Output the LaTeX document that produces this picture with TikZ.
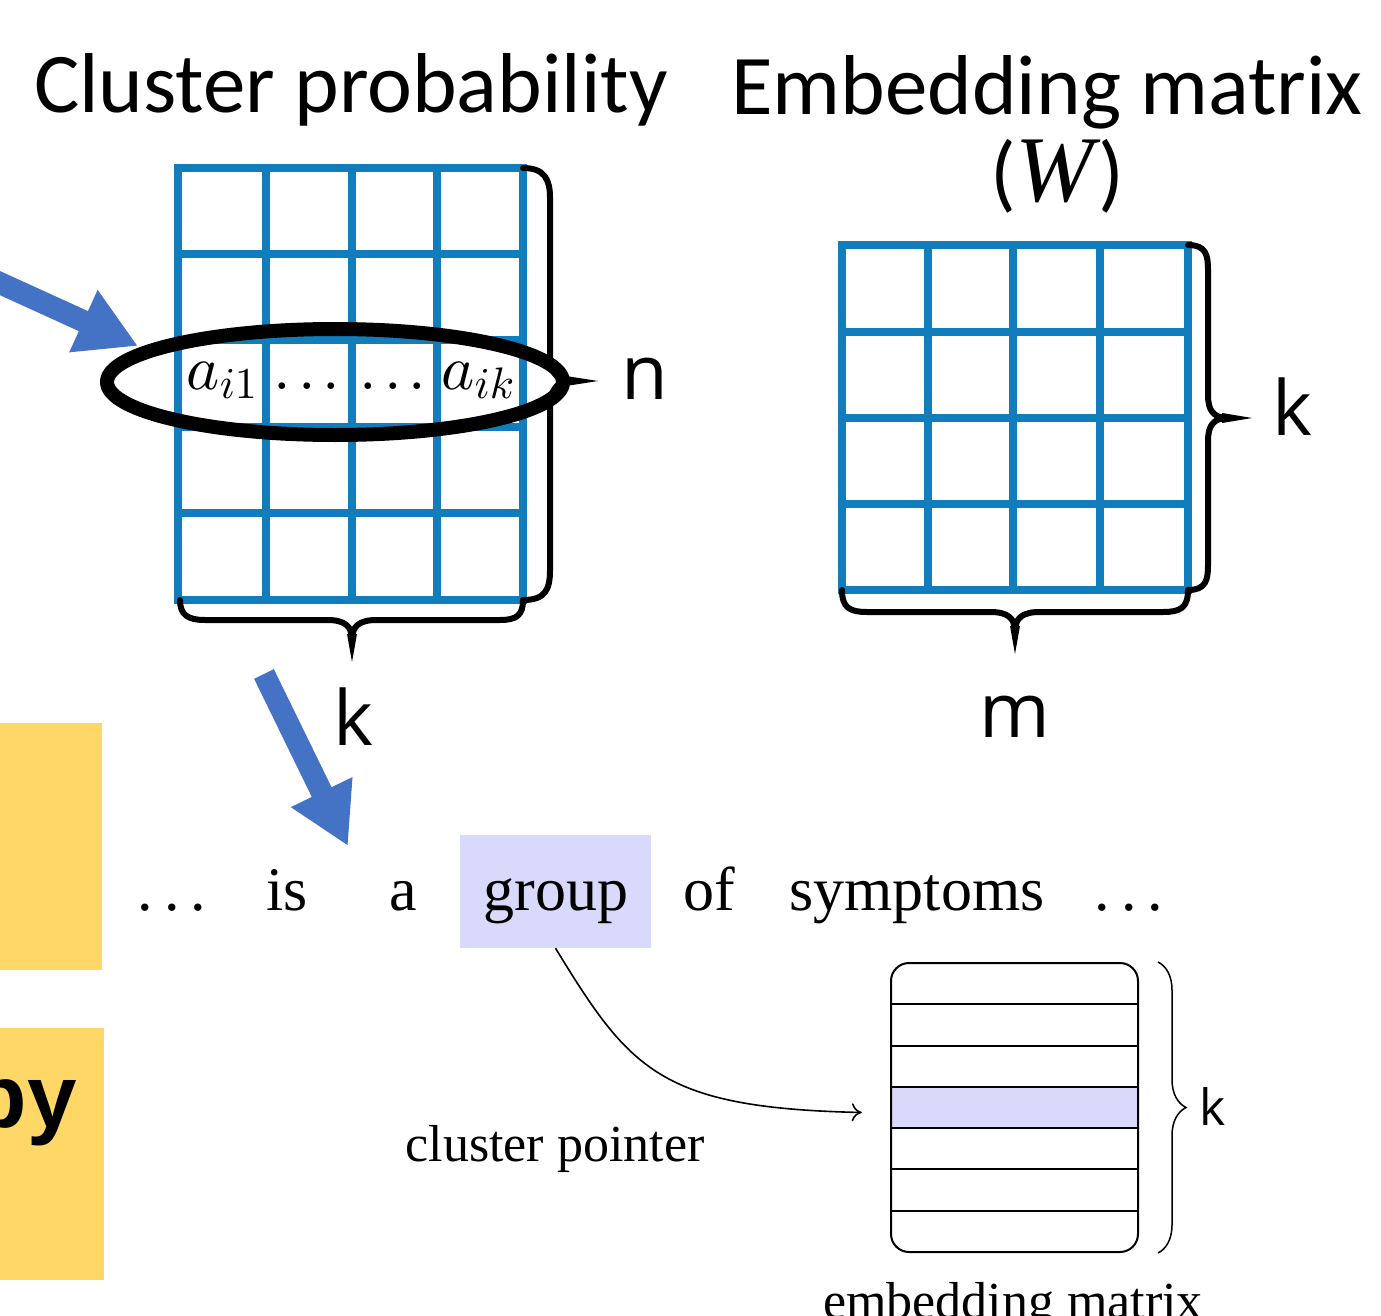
\documentclass[tikz,border=0pt]{standalone}
\DeclareFontShape{OML}{cmm}{m}{it}{<->cmmi10}{}
\DeclareFontShape{OT1}{cmr}{m}{n}{<->cmr10}{}
\DeclareFontShape{OMS}{cmsy}{m}{n}{<->cmsy10}{}
\DeclareFontShape{OMX}{cmex}{m}{n}{<->cmex10}{}
\usepackage{fontspec}
\setmainfont{Liberation Serif}
\newfontfamily\titlefont{Carlito}
\newfontfamily\labfont{Open Sans}
\newfontfamily\bsans{Liberation Sans}
\usetikzlibrary{arrows.meta,decorations.pathreplacing,calc}
\definecolor{gridblue}{RGB}{17,125,189}
\definecolor{arrowblue}{RGB}{68,114,196}
\definecolor{yel}{RGB}{254,215,102}
\definecolor{lav}{RGB}{217,217,251}
\newcommand{\wdots}{.\kern11pt.\kern11pt.}
\newcommand{\mdots}{$\mathord{.}\kern7pt\mathord{.}\kern7pt\mathord{.}$}
\begin{document}
\begin{tikzpicture}[x=1pt,y=-1pt,
  gridline/.style={gridblue, line width=7.5pt, line cap=rect},
  bracepath/.style={black, line width=6pt, line cap=round, line join=round},
  spike/.style={black, fill=black},
  barrow/.style={arrowblue, line width=22pt, -{Triangle[length=60pt,width=64pt]}},
  title/.style={inner sep=0pt, font=\titlefont\fontsize{85}{100}\selectfont},
  lab/.style={inner sep=0pt, anchor=base, font=\labfont\fontsize{76}{90}\selectfont},
  sent/.style={inner sep=0pt, anchor=base, font=\fontsize{62}{74}\selectfont},
  cell/.style={inner sep=0pt, anchor=base, font=\fontsize{63}{72}\selectfont},
]
\useasboundingbox (0,0) rectangle (1381,1316);
\clip (0,0) rectangle (1381,1316);
\fill[white] (0,0) rectangle (1381,1316);

% titles
\node[title, anchor=base west] (t1) at (34,113) {Cluster probability};
\node[title, anchor=base] (t2) at (1047,115) {Embedding matrix};
\node[title, anchor=base] (t3) at (1057,201) {({\fontspec{Liberation Serif}\fontsize{94}{100}\selectfont\itshape W\kern4pt})};

% left matrix
\foreach \x in {178,266,352,437,523} \draw[gridline] (\x,168) -- (\x,600);
\foreach \y in {168,254,340,427,513,600} \draw[gridline] (178,\y) -- (523,\y);
\node[cell] (c1) at (222,389) {$a_{i1}$};
\node[cell] (c2) at (307,389) {\mdots};
\node[cell] (c3) at (393,389) {\mdots};
\node[cell] (c4) at (478,389) {$a_{ik}$};

% right matrix
\foreach \x in {842,928,1013,1100,1188} \draw[gridline] (\x,245) -- (\x,590);
\foreach \y in {245,332,418,504,590} \draw[gridline] (842,\y) -- (1188,\y);

% braces of left matrix
\draw[bracepath] (523,168) .. controls (545,168) and (550,180) .. (550,198) -- (550,352)
  .. controls (550,372) and (556,381) .. (572,381)
  .. controls (556,381) and (550,390) .. (550,410) -- (550,570)
  .. controls (550,590) and (545,600) .. (523,600);
\fill[spike] (566,376) -- (598,381) -- (566,386) -- cycle;
\draw[bracepath] (180,600) .. controls (180,615) and (188,620) .. (205,620) -- (327,620)
  .. controls (345,620) and (352,626) .. (352,640)
  .. controls (352,626) and (359,620) .. (377,620) -- (500,620)
  .. controls (517,620) and (523,615) .. (523,600);
\fill[spike] (347,634) -- (352,662) -- (357,634) -- cycle;

% braces of right matrix
\draw[bracepath] (1188,245) .. controls (1206,245) and (1208,255) .. (1208,270) -- (1208,395)
  .. controls (1208,410) and (1213,418) .. (1228,418)
  .. controls (1213,418) and (1208,426) .. (1208,441) -- (1208,565)
  .. controls (1208,580) and (1206,590) .. (1188,590);
\fill[spike] (1222,413) -- (1252,418) -- (1222,423) -- cycle;
\draw[bracepath] (842,590) .. controls (842,608) and (850,612) .. (867,612) -- (990,612)
  .. controls (1008,612) and (1015,618) .. (1015,632)
  .. controls (1015,618) and (1022,612) .. (1040,612) -- (1163,612)
  .. controls (1180,612) and (1188,608) .. (1188,590);
\fill[spike] (1010,626) -- (1015,654) -- (1020,626) -- cycle;

% labels
\node[lab] (ln) at (645,399) {n};
\node[lab] (lk1) at (353,745) {k};
\node[lab] (lk2) at (1292,435) {k};
\node[lab] (lm) at (1015,737) {m};

% ellipse
\draw[black, line width=14pt] (335,382) ellipse [x radius=228pt, y radius=53pt];
\coordinate (ell) at (138,346);

% blue arrows
\coordinate (a1s) at (-20,274);
\draw[barrow] (a1s) -- (ell);
\coordinate (a2s) at (264,674);
\coordinate (a2e) at (348,846);
\draw[barrow] (a2s) -- (a2e);

% yellow boxes
\fill[yel] (-5,723) rectangle (102,970);
\fill[yel] (-5,1028) rectangle (104,1280);
\node[inner sep=0pt, anchor=base east, font=\bsans\bfseries\fontsize{89}{100}\selectfont] (by) at (77,1127) {by};

% sentence
\node[fill=lav, inner sep=0pt, minimum width=191pt, minimum height=113pt] (grp) at (555.5,891.5) {};
\node[sent] (w1) at (172,910) {\wdots};
\node[sent] (w2) at (287,910) {is};
\node[sent] (w3) at (403,910) {a};
\node[sent] (w4) at (556,910) {group};
\node[sent] (w5) at (709,910) {of};
\node[sent] (w6) at (917,910) {symptoms};
\node[sent] (w7) at (1129,910) {\wdots};

% embedding matrix
\node[fill=lav, inner sep=0pt, minimum width=247pt, minimum height=41pt] (row) at (1014.5,1107.5) {};
\node[draw, line width=2pt, rounded corners=18pt, inner sep=0pt, minimum width=247pt, minimum height=289pt] (emb) at (1014.5,1107.5) {};
\foreach \y in {1004.3,1045.6,1086.9,1128.1,1169.4,1210.7} \draw[line width=2pt] (891,\y) -- (1138,\y);
\draw[decorate, decoration={brace, amplitude=28pt}, line width=1.5pt] ($(emb.north east)+(19,0)$) -- ($(emb.south east)+(19,0)$);
\node[inner sep=0pt, anchor=base, font=\labfont\fontsize{50}{60}\selectfont] (lk3) at (1213,1125) {k};

% pointer
\coordinate (ptr) at ($(row.west)+(-29,5)$);
\draw[line width=1.6pt, -{To[length=10pt,width=18pt]}] (grp.south) .. controls (630,1070) and (660,1108) .. (ptr);
\node[sent, font=\fontsize{52}{62}\selectfont] (cp) at (555,1161) {cluster pointer};
\node[sent, font=\fontsize{52}{62}\selectfont] (em) at (1013,1318) {embedding matrix};
\end{tikzpicture}
\end{document}
